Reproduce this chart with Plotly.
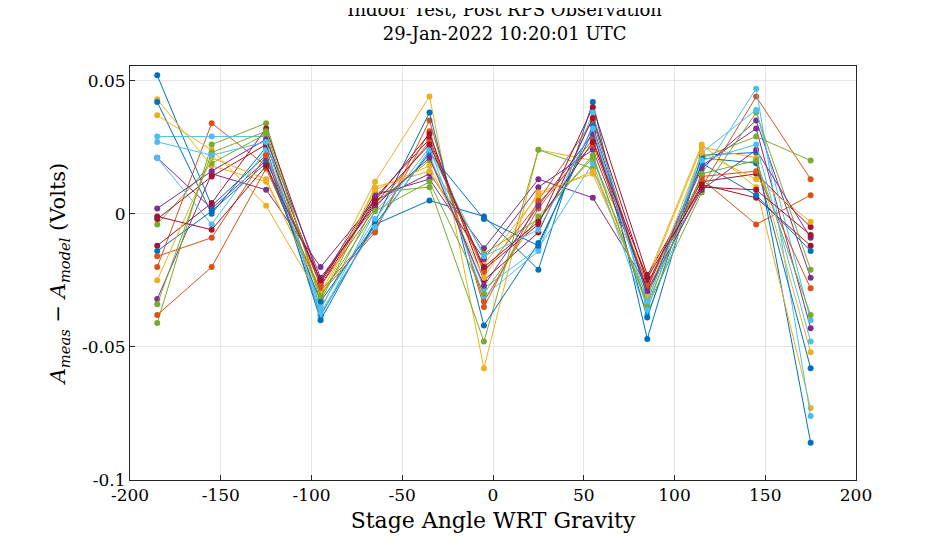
import plotly.graph_objects as go

# Stage angles (deg)
angles = [-185, -155, -125, -95, -65, -35, -5, 25, 55, 85, 115, 145, 175]
x_ticks = [-200, -150, -100, -50, 0, 50, 100, 150, 200]

# Residuals per observation run (Volts)
series = [
    [0.052, 0.003, 0.022, -0.038, -0.004, 0.005, -0.001, -0.021, 0.042, -0.047, 0.022, 0.023, -0.086],
    [-0.020, 0.034, 0.018, -0.030, -0.007, 0.035, -0.035, 0.005, 0.035, -0.030, 0.010, 0.044, 0.013],
    [0.043, 0.018, 0.012, -0.028, 0.012, 0.044, -0.058, 0.024, 0.020, -0.024, 0.026, 0.010, -0.073],
    [-0.032, 0.015, 0.009, -0.020, 0.005, 0.015, -0.013, 0.013, 0.006, -0.027, 0.018, 0.032, -0.043],
    [-0.041, 0.026, 0.034, -0.033, 0.008, 0.010, -0.048, 0.024, 0.017, -0.033, 0.021, 0.029, 0.020],
    [0.029, 0.029, 0.029, -0.039, 0.001, 0.022, -0.028, -0.013, 0.019, -0.038, 0.015, 0.047, -0.076],
    [-0.012, 0.004, 0.032, -0.026, 0.006, 0.028, -0.021, -0.004, 0.040, -0.023, 0.012, 0.015, -0.005],
    [0.042, 0.000, 0.025, -0.040, -0.003, 0.038, -0.042, -0.011, 0.031, -0.039, 0.021, 0.019, -0.058],
    [-0.038, -0.020, 0.017, -0.029, -0.006, 0.031, -0.033, 0.002, 0.028, -0.029, 0.013, -0.004, 0.007],
    [0.037, 0.024, 0.003, -0.032, 0.010, 0.016, -0.019, 0.007, 0.016, -0.025, 0.025, 0.021, -0.052],
    [0.021, 0.002, 0.020, -0.025, 0.007, 0.013, -0.017, 0.010, 0.024, -0.028, 0.017, 0.035, -0.024],
    [-0.004, 0.019, 0.030, -0.036, 0.004, 0.020, -0.015, -0.002, 0.022, -0.035, 0.008, 0.038, -0.021],
    [0.021, -0.004, 0.024, -0.035, -0.002, 0.025, -0.031, -0.014, 0.038, -0.036, 0.023, 0.039, -0.040],
    [-0.002, 0.014, 0.026, -0.027, 0.005, 0.030, -0.025, -0.007, 0.036, -0.026, 0.011, 0.006, -0.012],
    [-0.014, 0.001, 0.019, -0.033, -0.004, 0.023, -0.002, -0.012, 0.033, -0.031, 0.019, 0.007, -0.014],
    [-0.016, -0.009, 0.022, -0.027, 0.002, 0.027, -0.022, 0.004, 0.026, -0.027, 0.014, 0.016, -0.028],
    [-0.025, 0.021, 0.013, -0.030, 0.009, 0.018, -0.024, 0.008, 0.015, -0.031, 0.023, 0.013, -0.003],
    [0.002, 0.016, 0.028, -0.024, 0.003, 0.021, -0.027, 0.003, 0.030, -0.029, 0.009, 0.024, -0.009],
    [-0.034, 0.023, 0.031, -0.031, 0.001, 0.012, -0.030, -0.001, 0.021, -0.034, 0.015, 0.020, -0.038],
    [0.027, 0.022, 0.027, -0.037, -0.005, 0.024, -0.016, -0.006, 0.032, -0.033, 0.020, 0.026, -0.048],
    [-0.001, -0.006, 0.018, -0.025, 0.004, 0.026, -0.020, -0.003, 0.027, -0.024, 0.010, 0.009, -0.008],
]

colors = ["#0072BD", "#D95319", "#EDB120", "#7E2F8E", "#77AC30", "#4DBEEE", "#A2142F"]

fig = go.Figure()
for i, ys in enumerate(series):
    c = colors[i % len(colors)]
    fig.add_trace(go.Scatter(
        x=angles, y=ys, mode="lines+markers",
        line=dict(color=c, width=1), marker=dict(color=c, size=6),
        showlegend=False, cliponaxis=False,
    ))

font = dict(family="DejaVu Serif, Liberation Serif, serif", color="#000", size=18)
axis = dict(showline=True, linecolor="#262626", mirror=True, ticks="inside", ticklen=5,
            tickcolor="#262626", showgrid=True, gridcolor="#e6e6e6", zeroline=False,
            tickfont=dict(size=17), automargin=False)

fig.update_layout(
    width=938, height=546, plot_bgcolor="white", paper_bgcolor="white", font=font,
    margin=dict(l=122, r=90, t=58, b=74),
    title=dict(text="Indoor Test, Post RPS Observation<br>29-Jan-2022 10:20:01 UTC",
               x=0.516, xanchor="center", xref="paper", yref="container", y=0.985,
               yanchor="top", font=dict(size=18), automargin=False),
    xaxis=dict(axis, range=[-200, 200], tickvals=x_ticks,
               ticktext=[str(t) for t in x_ticks],
               title=dict(text="Stage Angle WRT Gravity", standoff=8)),
    yaxis=dict(axis, range=[-0.1, 0.0555], tickvals=[-0.1, -0.05, 0, 0.05],
               ticktext=["-0.1", "-0.05", "0", "0.05"],
               title=dict(text="<i>A<sub>meas</sub></i> − <i>A<sub>model</sub></i> (Volts)",
                          font=dict(size=21), standoff=10)),
)

fig.write_html("out.html")
